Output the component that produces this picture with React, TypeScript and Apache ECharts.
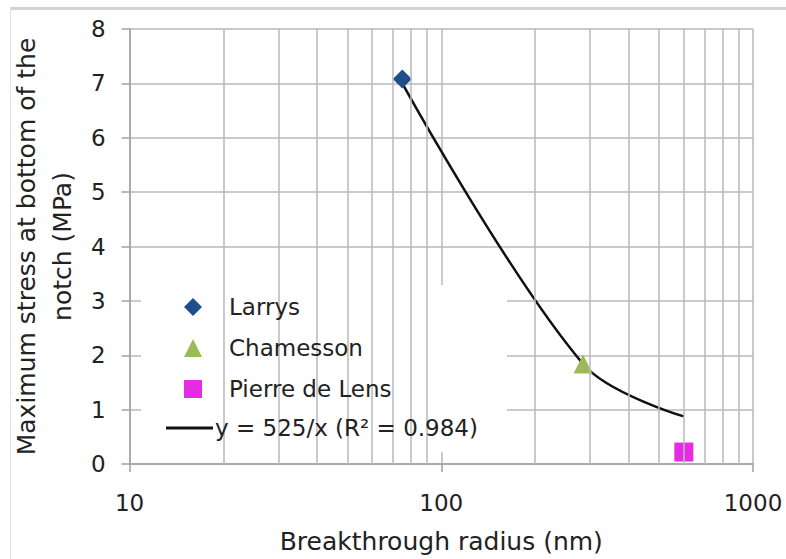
import React, { useEffect, useRef } from "react";
import * as echarts from "echarts";

// ---- data ----
const larrys: number[][] = [[75, 7.08]];
const chamesson: number[][] = [[285, 1.84]];
const pierreDeLens: number[][] = [[600, 0.22]];
const fitValues: number[][] = [[75, 7.0], [285, 1.84], [600, 0.875]];
const minorGridX: number[] = [20, 30, 40, 50, 60, 70, 80, 90, 200, 300, 400, 500, 600, 700, 800, 900];
const markerNames: string[] = ["Larrys", "Chamesson", "Pierre de Lens"];
const fitName = "y = 525/x (R\u00b2 = 0.984)";
const xTitle = "Breakthrough radius (nm)";
const yTitle = "Maximum stress at bottom of the\nnotch (MPa)";
const xMin = 10;
const xMax = 1000;
const yMin = 0;
const yMax = 8;
const yStep = 1;

const AXIS_FONT = "DejaVu Sans";
const LEGEND_FONT = "DejaVu Sans";
const TEXT = "#222222";
const GRID = "#b8b8b8";
const AXIS = "#a0a0a0";

export default function App() {
  const ref = useRef<HTMLDivElement>(null);
  useEffect(() => {
    document.body.style.margin = "0";
    if (!ref.current) return;
    const chart = echarts.init(ref.current, undefined, { renderer: "svg" });
    const legendText = {
      fontFamily: LEGEND_FONT,
      fontSize: 23,
      lineHeight: 24,
      color: TEXT,
    };
    chart.setOption({
      animation: false,
      backgroundColor: "#ffffff",
      grid: { left: 124, right: 33, top: 29, bottom: 94 },
      xAxis: {
        type: "log",
        logBase: 10,
        min: xMin,
        max: xMax,
        name: xTitle,
        nameLocation: "middle",
        nameGap: 65,
        nameTextStyle: { fontFamily: AXIS_FONT, fontSize: 25, color: TEXT },
        axisLine: { show: true, lineStyle: { color: AXIS, width: 1.5 } },
        axisTick: { show: true, inside: false, length: 8, lineStyle: { color: AXIS, width: 1.5 } },
        axisLabel: {
          fontFamily: AXIS_FONT,
          fontSize: 23,
          color: TEXT,
          margin: 27,
          formatter: (v: number) => String(Math.round(v)),
        },
        splitLine: { show: true, lineStyle: { color: GRID, width: 1.5 } },
      },
      yAxis: {
        type: "value",
        min: yMin,
        max: yMax,
        interval: yStep,
        name: yTitle,
        nameLocation: "middle",
        nameRotate: 90,
        nameGap: 45,
        nameTextStyle: { fontFamily: AXIS_FONT, fontSize: 25, lineHeight: 36, color: TEXT, align: "center" },
        axisLine: { show: true, lineStyle: { color: AXIS, width: 1.5 } },
        axisTick: { show: true, inside: false, length: 8, lineStyle: { color: AXIS, width: 1.5 } },
        axisLabel: { fontFamily: AXIS_FONT, fontSize: 23, color: TEXT, margin: 24 },
        splitLine: { show: true, lineStyle: { color: GRID, width: 1.5 } },
      },
      legend: [
        {
          data: markerNames,
          orient: "vertical",
          left: 184,
          top: 295,
          padding: 0,
          itemWidth: 18,
          itemHeight: 18,
          itemGap: 17,
          selectedMode: false,
          z: 10,
          textStyle: { ...legendText, padding: [0, 0, 0, 22] },
        },
        {
          data: [{ name: fitName, icon: "rect" }],
          orient: "vertical",
          left: 166,
          top: 416,
          padding: 0,
          itemWidth: 47,
          itemHeight: 3,
          selectedMode: false,
          z: 10,
          itemStyle: { color: "#111111" },
          textStyle: { ...legendText, padding: [0, 0, 0, -3] },
        },
      ],
      graphic: [
        { type: "rect", silent: true, z: 5, shape: { x: 141, y: 285, width: 366, height: 167 }, style: { fill: "#ffffff" } },
        { type: "line", silent: true, z: 5, shape: { x1: 10, y1: 8.5, x2: 786, y2: 8.5 }, style: { stroke: "#d3d3d3", lineWidth: 3 } },
        { type: "line", silent: true, z: 5, shape: { x1: 10.5, y1: 8, x2: 10.5, y2: 559 }, style: { stroke: "#e2e2e2", lineWidth: 1 } },
      ],
      series: [
        {
          type: "line",
          name: "minor grid",
          data: [],
          z: 1,
          silent: true,
          markLine: {
            silent: true,
            symbol: "none",
            animation: false,
            label: { show: false },
            lineStyle: { color: GRID, width: 1.5, type: "solid" },
            emphasis: { disabled: true },
            data: minorGridX.map((v) => ({ xAxis: v })),
          },
        },
        {
          type: "line",
          name: fitName,
          data: fitValues,
          smooth: 0.35,
          symbol: "none",
          showSymbol: false,
          z: 3,
          lineStyle: { color: "#111111", width: 2.5 },
          itemStyle: { color: "#111111" },
        },
        {
          type: "scatter",
          name: markerNames[0],
          data: larrys,
          symbol: "diamond",
          symbolSize: 19,
          z: 4,
          itemStyle: { color: "#1f4e8c", opacity: 1 },
        },
        {
          type: "scatter",
          name: markerNames[1],
          data: chamesson,
          symbol: "triangle",
          symbolSize: 19,
          z: 4,
          itemStyle: { color: "#9bbb59", opacity: 1 },
        },
        {
          type: "scatter",
          name: markerNames[2],
          data: pierreDeLens,
          symbol: "rect",
          symbolSize: 19,
          z: 4,
          itemStyle: { color: "#e62ce2", opacity: 1 },
        },
      ],
    });
    return () => chart.dispose();
  }, []);
  return <div ref={ref} style={{ width: 786, height: 559 }} />;
}
